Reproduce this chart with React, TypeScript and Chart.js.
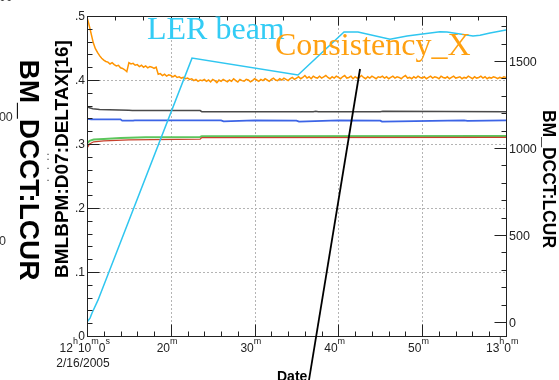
import React, { useEffect, useRef } from 'react';
import { Chart, registerables } from 'chart.js';
Chart.register(...registerables);

const W = 559;
const H = 380;

// X axis: minutes after 12:10:00 on 2/16/2005
const xMin = 0;
const xMax = 50;
const xMajorTicks = [0, 10, 20, 30, 40, 50];
// each label: list of [text, isSuperscript]
const xTickLabels: [string, boolean][][] = [
  [['12', false], ['h', true], ['10', false], ['m', true], ['0', false], ['s', true]],
  [['20', false], ['m', true]],
  [['30', false], ['m', true]],
  [['40', false], ['m', true]],
  [['50', false], ['m', true]],
  [['13', false], ['h', true], ['0', false], ['m', true]],
];
const xDateLabel = '2/16/2005';
const xAxisTitle = 'Date';

// Left axis
const leftMin = 0;
const leftMax = 0.5;
const leftTicks = [0, 0.1, 0.2, 0.3, 0.4, 0.5];
const leftTickLabels = ['0', '.1', '.2', '.3', '.4', '.5'];
const leftTitle = 'BMLBPM:D07:DELTAX[16]';

// Right axis
const rightMin = -80;
const rightMax = 1759;
const rightTicks = [0, 500, 1000, 1500];
const rightTickLabels = ['0', '500', '1000', '1500'];
const rightTitle = 'BM_DCCT:LCUR';

// Overlapping leftovers at the left edge
const ghostTitle = 'BM_DCCT:LCUR';
const ghostTickLabels = ['1500', '1000', '500'];

// Legend-like captions
const lerCaption = 'LER beam';
const consistencyCaption = 'Consistency_X';

// LER beam current (right axis)
const lerMinutes = [0, 0.36, 0.6, 1.31, 12.53, 25.18, 30.67, 32.34, 36.16, 38.19, 42.12, 42.96, 46.06, 46.9, 48.09, 50];
const lerCurrent = [0, 23, 52, 126, 1517, 1420, 1667, 1667, 1626, 1644, 1668, 1667, 1644, 1649, 1661, 1678];

// Consistency_X (left axis), sampled every 0.25 min
const orangeStep = 0.25;
const orangeValues = [
  0.498, 0.486, 0.472, 0.458, 0.449, 0.443, 0.438, 0.434, 0.431, 0.429,
  0.428, 0.425, 0.427, 0.424, 0.422, 0.423, 0.419, 0.418, 0.416, 0.413,
  0.427, 0.425, 0.426, 0.423, 0.424, 0.421, 0.423, 0.420, 0.422, 0.419,
  0.421, 0.420, 0.418, 0.420, 0.409, 0.410, 0.407, 0.409, 0.406, 0.408,
  0.407, 0.405, 0.407, 0.404, 0.405, 0.403, 0.404, 0.402, 0.403, 0.401,
  0.402, 0.399, 0.401, 0.398, 0.400, 0.399,
  0.401, 0.398, 0.400, 0.397, 0.401, 0.399, 0.396, 0.400, 0.398, 0.401,
  0.399, 0.397, 0.400, 0.398, 0.402, 0.399, 0.397, 0.401, 0.399, 0.398,
  0.401, 0.400, 0.397, 0.399, 0.402, 0.400, 0.398, 0.401, 0.399, 0.402,
  0.400, 0.398, 0.401, 0.403, 0.400, 0.399, 0.402, 0.400, 0.403, 0.401,
  0.399, 0.402, 0.404, 0.401, 0.403,
  0.405, 0.402, 0.404, 0.407, 0.403, 0.405, 0.402, 0.406, 0.404, 0.403,
  0.406, 0.403, 0.405, 0.407, 0.404, 0.402, 0.405, 0.403, 0.406, 0.404,
  0.402, 0.405, 0.407, 0.403, 0.404, 0.406, 0.402, 0.405, 0.403, 0.404,
  0.407, 0.404, 0.402, 0.405, 0.403, 0.406, 0.404, 0.402, 0.405, 0.404,
  0.406, 0.403, 0.405, 0.402, 0.404, 0.406, 0.403, 0.405, 0.404, 0.402,
  0.405, 0.407, 0.403, 0.404, 0.402, 0.405, 0.403, 0.406, 0.404, 0.403,
  0.405, 0.402, 0.404, 0.406, 0.403, 0.405, 0.404, 0.402, 0.406, 0.404,
  0.403, 0.405, 0.402, 0.404, 0.406, 0.403, 0.404, 0.405, 0.402, 0.404,
  0.403, 0.406, 0.404, 0.402, 0.405, 0.403, 0.404, 0.406, 0.403, 0.405,
  0.402, 0.404, 0.403, 0.405, 0.404, 0.402, 0.404, 0.403, 0.405, 0.404,
];

// Dark grey trace (left axis)
const greyMinutes = [0, 0.3, 0.7, 1.5, 5.0, 5.4, 13.5, 13.7, 27, 27.3, 27.6, 35, 35.3, 50];
const greyValues = [0.3583, 0.3565, 0.3552, 0.354, 0.3528, 0.3522, 0.3522, 0.3505, 0.3505, 0.3512, 0.3505, 0.3505, 0.351, 0.3505];

// Blue trace (left axis)
const blueMinutes = [0, 0.5, 4, 4.2, 5.5, 5.7, 16, 16.3, 20, 25, 25.3, 30, 35, 35.2, 45, 45.4, 50];
const blueValues = [0.3395, 0.3385, 0.3385, 0.3365, 0.3365, 0.337, 0.337, 0.3355, 0.337, 0.3365, 0.335, 0.337, 0.3365, 0.335, 0.337, 0.336, 0.337];

// Green trace (left axis)
const greenMinutes = [0, 0.3, 0.8, 2, 4, 7, 13.5, 13.7, 50];
const greenValues = [0.3005, 0.305, 0.307, 0.308, 0.3095, 0.3105, 0.311, 0.3122, 0.3125];

// Red trace (left axis)
const redMinutes = [0, 0.3, 0.8, 2, 5, 13.5, 13.7, 50];
const redValues = [0.2935, 0.3, 0.3035, 0.305, 0.3065, 0.3075, 0.31, 0.3102];

// Annotation pointer line (minutes, left-axis value)
const pointerFrom = [32.58, 0.4172];
const pointerTo = [26.49, -0.0688];

const SANS = '"Liberation Sans", Arial, Helvetica, sans-serif';
const SERIF = '"Liberation Serif", "Times New Roman", serif';

function pts(xs: number[], ys: number[]) {
  return xs.map((x, i) => ({ x, y: ys[i] }));
}

const overlay = {
  id: 'overlay',
  beforeDatasetsDraw(chart: any) {
    const ctx = chart.ctx as CanvasRenderingContext2D;
    const { left, right, top, bottom } = chart.chartArea;
    const xs = chart.scales.x;
    const ys = chart.scales.y;
    ctx.save();
    ctx.strokeStyle = '#b4b4b4';
    ctx.lineWidth = 1;
    ctx.setLineDash([2, 2]);
    xMajorTicks.forEach((m) => {
      if (m === xMin || m === xMax) return;
      const px = Math.round(xs.getPixelForValue(m)) + 0.5;
      ctx.beginPath();
      ctx.moveTo(px, top);
      ctx.lineTo(px, bottom);
      ctx.stroke();
    });
    leftTicks.forEach((v) => {
      if (v === leftMin || v === leftMax) return;
      const py = Math.round(ys.getPixelForValue(v)) + 0.5;
      ctx.beginPath();
      ctx.moveTo(left, py);
      ctx.lineTo(right, py);
      ctx.stroke();
    });
    ctx.restore();
  },
  afterDatasetsDraw(chart: any) {
    const ctx = chart.ctx as CanvasRenderingContext2D;
    const { left, right, top, bottom } = chart.chartArea;
    const xs = chart.scales.x;
    const ys = chart.scales.y;
    const y2 = chart.scales.y2;
    const L = Math.round(left) + 0.5;
    const R = Math.round(right) + 0.5;
    const T = Math.round(top) + 0.5;
    const B = Math.round(bottom) + 0.5;
    ctx.save();
    ctx.setLineDash([]);
    ctx.strokeStyle = '#222';
    ctx.lineWidth = 1;
    ctx.strokeRect(L, T, R - L, B - T);

    // left axis ticks every 0.02
    ctx.beginPath();
    for (let k = 0; k <= 25; k++) {
      const py = Math.round(ys.getPixelForValue(k * 0.02)) + 0.5;
      const len = k % 5 === 0 ? 12 : 5;
      ctx.moveTo(L, py);
      ctx.lineTo(L + len, py);
    }
    // right axis ticks every 100
    for (let k = 0; k <= 17; k++) {
      const py = Math.round(y2.getPixelForValue(k * 100)) + 0.5;
      const len = k % 5 === 0 ? 12 : 5;
      ctx.moveTo(R, py);
      ctx.lineTo(R - len, py);
    }
    // bottom ticks every 2 min
    for (let k = 0; k <= 25; k++) {
      const px = Math.round(xs.getPixelForValue(k * 2)) + 0.5;
      const len = k % 5 === 0 ? 12 : 5;
      ctx.moveTo(px, B);
      ctx.lineTo(px, B - len);
    }
    // top ticks every 10/3 min
    for (let k = 0; k <= 15; k++) {
      const px = Math.round(xs.getPixelForValue((k * 10) / 3)) + 0.5;
      const len = k % 3 === 0 ? 9 : 4;
      ctx.moveTo(px, T);
      ctx.lineTo(px, T + len);
    }
    ctx.stroke();

    // left tick labels
    ctx.fillStyle = '#222';
    ctx.font = `12px ${SANS}`;
    ctx.textAlign = 'right';
    ctx.textBaseline = 'middle';
    leftTicks.forEach((v, i) => {
      ctx.fillText(leftTickLabels[i], left - 2, ys.getPixelForValue(v) + 1);
    });
    // right tick labels
    ctx.textAlign = 'left';
    ctx.font = `12.5px ${SANS}`;
    rightTicks.forEach((v, i) => {
      ctx.fillText(rightTickLabels[i], right + 3, y2.getPixelForValue(v) + 1);
    });

    // x tick labels with superscripts
    ctx.textBaseline = 'alphabetic';
    ctx.textAlign = 'left';
    const mainFont = `12px ${SANS}`;
    const supFont = `9px ${SANS}`;
    const base = bottom + 16;
    xMajorTicks.forEach((m, i) => {
      const parts = xTickLabels[i];
      const widths = parts.map(([t, sup]) => {
        ctx.font = sup ? supFont : mainFont;
        return ctx.measureText(t).width;
      });
      const total = widths.reduce((a, b) => a + b, 0);
      const lastSup = parts[parts.length - 1][1] ? widths[widths.length - 1] : 0;
      let x = xs.getPixelForValue(m) - (total + lastSup) / 2;
      parts.forEach(([t, sup], j) => {
        ctx.font = sup ? supFont : mainFont;
        ctx.fillText(t, x, sup ? base - 8 : base);
        x += widths[j];
      });
    });
    ctx.font = mainFont;
    ctx.textAlign = 'center';
    ctx.fillText(xDateLabel, xs.getPixelForValue(xMin) - 4, base + 15);

    // x axis title
    ctx.fillStyle = '#000';
    ctx.font = `bold 14px ${SANS}`;
    ctx.textAlign = 'left';
    ctx.fillText(xAxisTitle, 277, 381);

    // left axis title (reads bottom-to-top)
    ctx.save();
    ctx.translate(68, 159);
    ctx.rotate(-Math.PI / 2);
    ctx.textAlign = 'center';
    ctx.font = `bold 19px ${SANS}`;
    ctx.fillText(leftTitle, 0, 0);
    ctx.restore();

    // big overlapping title at far left (reads top-to-bottom)
    ctx.save();
    ctx.translate(20, 170);
    ctx.rotate(Math.PI / 2);
    ctx.textAlign = 'center';
    ctx.font = `bold 28px ${SANS}`;
    ctx.fillText(ghostTitle, 0, 0);
    ctx.restore();

    // right axis title (reads top-to-bottom)
    ctx.save();
    ctx.translate(543, 179);
    ctx.rotate(Math.PI / 2);
    ctx.textAlign = 'center';
    ctx.font = `bold 17.5px ${SANS}`;
    ctx.fillText(rightTitle, 0, 0);
    ctx.restore();

    // ghost tick labels at left edge
    ctx.fillStyle = '#333';
    ctx.font = `12.5px ${SANS}`;
    ctx.textAlign = 'left';
    ctx.textBaseline = 'middle';
    const ghostY = [-2, 118, 242];
    ghostTickLabels.forEach((t, i) => ctx.fillText(t, -15, ghostY[i]));
    ctx.font = `11px ${SANS}`;
    ctx.textAlign = 'center';
    ctx.fillText('.', 48, 152);
    ctx.fillText('.', 48, 157);
    ctx.fillText('.', 48, 166);
    ctx.fillText('.', 48, 178);

    // captions
    ctx.textAlign = 'left';
    ctx.textBaseline = 'alphabetic';
    ctx.font = `32px ${SERIF}`;
    ctx.fillStyle = '#33ccf5';
    ctx.fillText(lerCaption, 147, 39);
    ctx.fillStyle = '#ffa010';
    ctx.fillText(consistencyCaption, 275, 55);

    // pointer line
    ctx.strokeStyle = '#000';
    ctx.lineWidth = 1.8;
    ctx.beginPath();
    ctx.moveTo(xs.getPixelForValue(pointerFrom[0]), ys.getPixelForValue(pointerFrom[1]));
    ctx.lineTo(xs.getPixelForValue(pointerTo[0]), ys.getPixelForValue(pointerTo[1]));
    ctx.stroke();
    ctx.restore();
  },
};

export default function App() {
  const ref = useRef<HTMLCanvasElement>(null);
  useEffect(() => {
    const canvas = ref.current;
    if (!canvas) return;
    const line = (label: string, data: any[], color: string, width: number, axis = 'y') => ({
      label,
      data,
      borderColor: color,
      backgroundColor: color,
      borderWidth: width,
      pointRadius: 0,
      tension: 0,
      fill: false,
      yAxisID: axis,
    });
    const chart = new Chart(canvas, {
      type: 'line',
      data: {
        datasets: [
          line('LER beam', pts(lerMinutes, lerCurrent), '#2fc6f0', 1.5, 'y2'),
          line('Consistency_X', orangeValues.map((v, i) => ({ x: i * orangeStep, y: v })), '#ff9400', 1.5),
          line('red', pts(redMinutes, redValues), '#c8402c', 1.3),
          line('green', pts(greenMinutes, greenValues), '#5cc65c', 2),
          line('blue', pts(blueMinutes, blueValues), '#3c64e6', 1.8),
          line('grey', pts(greyMinutes, greyValues), '#4a4a4a', 1.5),
        ],
      },
      options: {
        responsive: false,
        animation: false,
        events: [],
        layout: { padding: { left: 87, right: 53, top: 16, bottom: 44 } },
        plugins: { legend: { display: false }, tooltip: { enabled: false }, title: { display: false } },
        scales: {
          x: { type: 'linear', min: xMin, max: xMax, display: false },
          y: { type: 'linear', min: leftMin, max: leftMax, display: false },
          y2: { type: 'linear', min: rightMin, max: rightMax, display: false, position: 'right' },
        },
      },
      plugins: [overlay],
    } as any);
    return () => chart.destroy();
  }, []);
  return (
    <div style={{ position: 'absolute', left: 0, top: 0, width: W, height: H, background: '#fff' }}>
      <canvas ref={ref} width={W} height={H} style={{ display: 'block', width: W, height: H }} />
    </div>
  );
}
